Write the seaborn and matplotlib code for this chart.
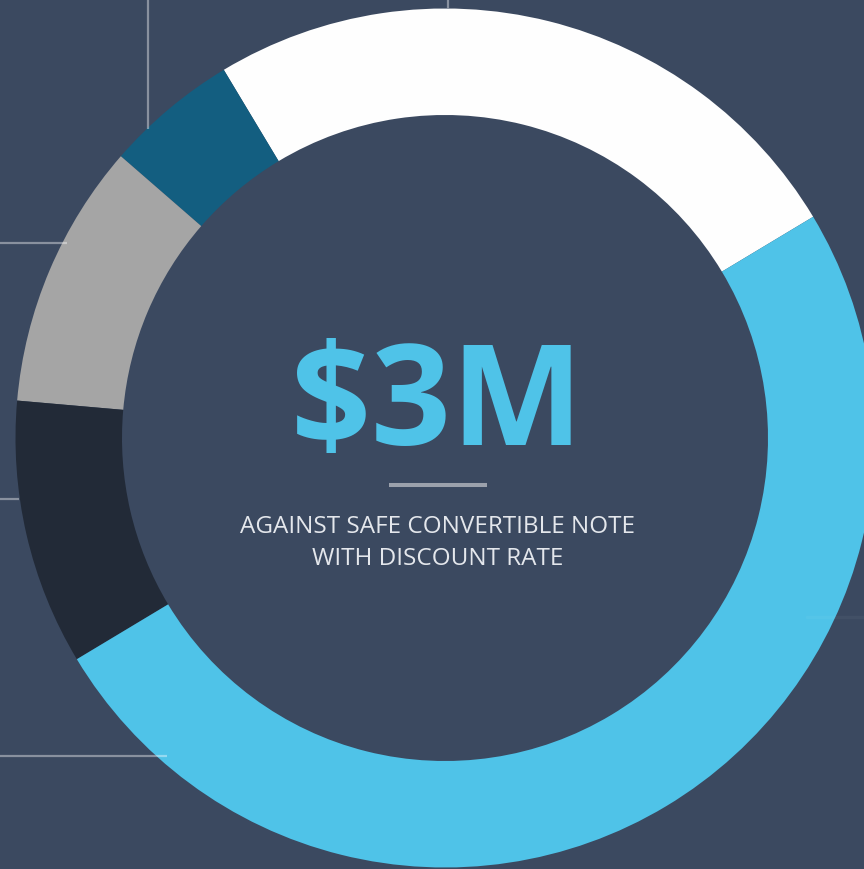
import matplotlib
matplotlib.use("Agg")
import matplotlib.pyplot as plt
import seaborn as sns

# ---- data ----
segments = ["Founders", "Seed", "Advisors", "Option pool", "Investors"]
shares = [25, 5, 10, 10, 50]
seg_colors = ["#FEFEFE", "#135E80", "#A5A5A5", "#222A37", "#4FC3E8"]

headline = "$3M"
subtitle = ["AGAINST SAFE CONVERTIBLE NOTE", "WITH DISCOUNT RATE"]

BG = "#3B4960"
W, H = 864, 869

sns.set_theme(style="white")
plt.rcParams["font.family"] = ["Open Sans", "DejaVu Sans"]

fig = plt.figure(figsize=(W / 100, H / 100), dpi=100, facecolor=BG)
ax = fig.add_axes([0, 0, 1, 1])
ax.set_facecolor(BG)

cx, cy = 445, H - 438
R, r_in = 429.5, 323

palette = sns.color_palette(seg_colors)
ax.pie(shares, colors=palette, startangle=31, counterclock=True,
       center=(cx, cy), radius=R, frame=True,
       wedgeprops=dict(width=R - r_in, linewidth=0, antialiased=True))

# decorative guide lines (semi-transparent)
lk = dict(color="white", alpha=0.4, lw=1.6, solid_capstyle="butt", zorder=5)
ax.plot([148, 148], [H, H - 129], **lk)
ax.plot([447.5, 447.5], [H, H - 8], **lk)
ax.plot([0, 67], [H - 243, H - 243], **lk)
ax.plot([0, 19], [H - 499, H - 499], **lk)
ax.plot([0, 167], [H - 756, H - 756], **lk)
ax.plot([807, 864], [H - 617, H - 617], color="white", alpha=0.04, lw=2.5, zorder=5)

# centre text
ax.text(437, H - 445, headline, ha="center", va="baseline", color="#4FC3E8",
        fontsize=101, fontweight="bold", zorder=6)
ax.plot([389, 487], [H - 484.5, H - 484.5], color="#9BA1AC", lw=2.9,
        solid_capstyle="butt", zorder=6)
ax.text(438, H - 533, subtitle[0], ha="center", va="baseline", color="#E4E7EC",
        fontsize=17.5, fontweight="normal", zorder=6)
ax.text(438, H - 565, subtitle[1], ha="center", va="baseline", color="#E4E7EC",
        fontsize=17.5, fontweight="normal", zorder=6)

ax.set_xlim(0, W)
ax.set_ylim(0, H)
ax.set_aspect("auto")
ax.axis("off")

fig.savefig("out.png", dpi=100, facecolor=BG)
